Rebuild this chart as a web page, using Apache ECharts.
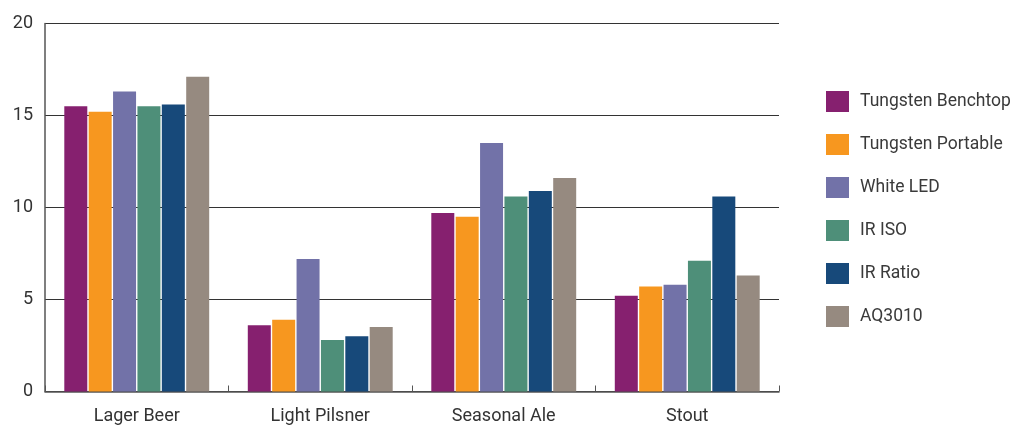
<!DOCTYPE html>
<html>
<head>
<meta charset="utf-8">
<script src="https://cdn.jsdelivr.net/npm/echarts@6/dist/echarts.min.js"></script>
<style>
  html, body { margin: 0; padding: 0; background: #fff; }
  #chart { width: 1012px; height: 426px; }
</style>
</head>
<body>
<div id="chart"></div>
<script>
const categories = ['Lager Beer', 'Light Pilsner', 'Seasonal Ale', 'Stout']
const tungstenBenchtop = [15.5, 3.6, 9.7, 5.2]
const tungstenPortable = [15.2, 3.9, 9.5, 5.7]
const whiteLed = [16.3, 7.2, 13.5, 5.8]
const irIso = [15.5, 2.8, 10.6, 7.1]
const irRatio = [15.6, 3.0, 10.9, 10.6]
const aq3010 = [17.1, 3.5, 11.6, 6.3]

const seriesDefs = [
  { name: 'Tungsten Benchtop', data: tungstenBenchtop, color: '#86206f' },
  { name: 'Tungsten Portable', data: tungstenPortable, color: '#f7971f' },
  { name: 'White LED', data: whiteLed, color: '#7272a8' },
  { name: 'IR ISO', data: irIso, color: '#4e8f79' },
  { name: 'IR Ratio', data: irRatio, color: '#17497a' },
  { name: 'AQ3010', data: aq3010, color: '#968a80' }
]

const font = 'Roboto'
const chart = echarts.init(document.getElementById('chart'), null, { renderer: 'canvas' })

chart.setOption({
  animation: false,
  grid: {
    left: 45,
    right: 233,
    top: 23.5,
    bottom: 34.5,
    containLabel: false,
    outerBoundsMode: 'none'
  },
  legend: {
    orient: 'vertical',
    left: 821,
    top: 86,
    itemWidth: 23,
    itemHeight: 21,
    itemGap: 22,
    icon: 'rect',
    textStyle: {
      fontFamily: font,
      fontSize: 17.5,
      color: '#3a3a3a',
      padding: [0, 0, 0, 6]
    },
    data: seriesDefs.map(s => s.name)
  },
  xAxis: {
    type: 'category',
    data: categories,
    axisLine: { lineStyle: { color: '#555', width: 1.5 } },
    axisTick: { show: true, inside: true, length: 6, lineStyle: { color: '#555' } },
    axisLabel: {
      fontFamily: font,
      fontSize: 18,
      color: '#333',
      margin: 16
    }
  },
  yAxis: {
    type: 'value',
    min: 0,
    max: 20,
    interval: 5,
    axisLine: { show: true, lineStyle: { color: '#555', width: 1.5 } },
    axisTick: { show: false },
    splitLine: { lineStyle: { color: '#333', width: 1 } },
    axisLabel: {
      fontFamily: font,
      fontSize: 18,
      color: '#333',
      margin: 12
    }
  },
  series: seriesDefs.map(s => ({
    name: s.name,
    type: 'bar',
    data: s.data,
    barWidth: 23,
    barGap: '6%',
    itemStyle: { color: s.color }
  }))
})
</script>
</body>
</html>
